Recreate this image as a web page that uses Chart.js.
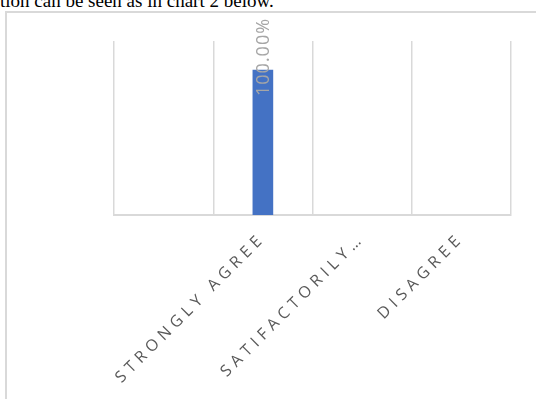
<!DOCTYPE html>
<html>
<head>
<meta charset="utf-8">
<script src="https://cdn.jsdelivr.net/npm/chart.js@4.4.1/dist/chart.umd.min.js"></script>
<style>
    body { margin: 0; background: #fff; width: 536px; height: 399px; overflow: hidden; position: relative; }
    #caption {
        position: absolute; left: 0; top: -10.3px;
        font-family: "Liberation Serif", "Times New Roman", serif;
        font-size: 19px; color: #000; white-space: nowrap;
    }
    #frame {
        position: absolute; left: 5px; top: 11px; width: 600px; height: 500px;
        border-left: 2px solid #d9d9d9; border-top: 2px solid #d9d9d9;
    }
    #chart-wrap { position: absolute; left: 0; top: 0; width: 536px; height: 399px; }
</style>
</head>
<body>
<div id="caption">tion can be seen as in chart 2 below.</div>
<div id="frame"></div>
<div id="chart-wrap"><canvas id="chart"></canvas></div>
<script>
const categories = ["", "STRONGLY AGREE", "SATIFACTORILY\u2026", "DISAGREE"];
const percentages = [null, 100, null, null];
const axisMax = 120;

let chartEl = document.getElementById("chart");

// spaced-out capitals on the category axis
const letterSpacing = {
    id: "letterSpacing",
    beforeDraw(chart) {
        chart.ctx.letterSpacing = "5px";
    },
    afterDraw(chart) {
        chart.ctx.letterSpacing = "0px";
    }
};

// value label, rotated to read bottom-to-top over the bar top
const valueLabels = {
    id: "valueLabels",
    afterDatasetsDraw(chart) {
        const ctx = chart.ctx;
        const meta = chart.getDatasetMeta(0);
        meta.data.forEach((bar, i) => {
            const v = percentages[i];
            if (v == null) return;
            ctx.save();
            ctx.letterSpacing = "1px";
            ctx.translate(bar.x, bar.y + 26);
            ctx.rotate(-Math.PI / 2);
            ctx.font = "18px 'Open Sans', sans-serif";
            ctx.fillStyle = "#a6a6a6";
            ctx.textAlign = "left";
            ctx.textBaseline = "alphabetic";
            ctx.fillText(v.toFixed(2) + "%", 0, 6.4);
            ctx.restore();
        });
    }
};

new Chart(chartEl, {
    type: "bar",
    data: {
        labels: categories,
        datasets: [{
            data: percentages,
            backgroundColor: "#4472c4",
            barThickness: 20
        }]
    },
    options: {
        responsive: true,
        maintainAspectRatio: false,
        animation: false,
        layout: { padding: { left: 114, right: 25, top: 41, bottom: 0 } },
        plugins: {
            legend: { display: false },
            tooltip: { enabled: false }
        },
        scales: {
            x: {
                grid: { color: "#d9d9d9", lineWidth: 1.5, drawTicks: false, offset: true },
                border: { color: "#d9d9d9", width: 2 },
                ticks: {
                    color: "#595959",
                    font: { family: "'Open Sans', sans-serif", size: 16 },
                    minRotation: 45,
                    maxRotation: 45,
                    padding: 14
                },
                afterFit(scale) {
                    scale.height = 184;
                    scale.paddingLeft = 0;
                    scale.paddingRight = 0;
                }
            },
            y: {
                display: false,
                min: 0,
                max: axisMax
            }
        }
    },
    plugins: [letterSpacing, valueLabels]
});
</script>
</body>
</html>
